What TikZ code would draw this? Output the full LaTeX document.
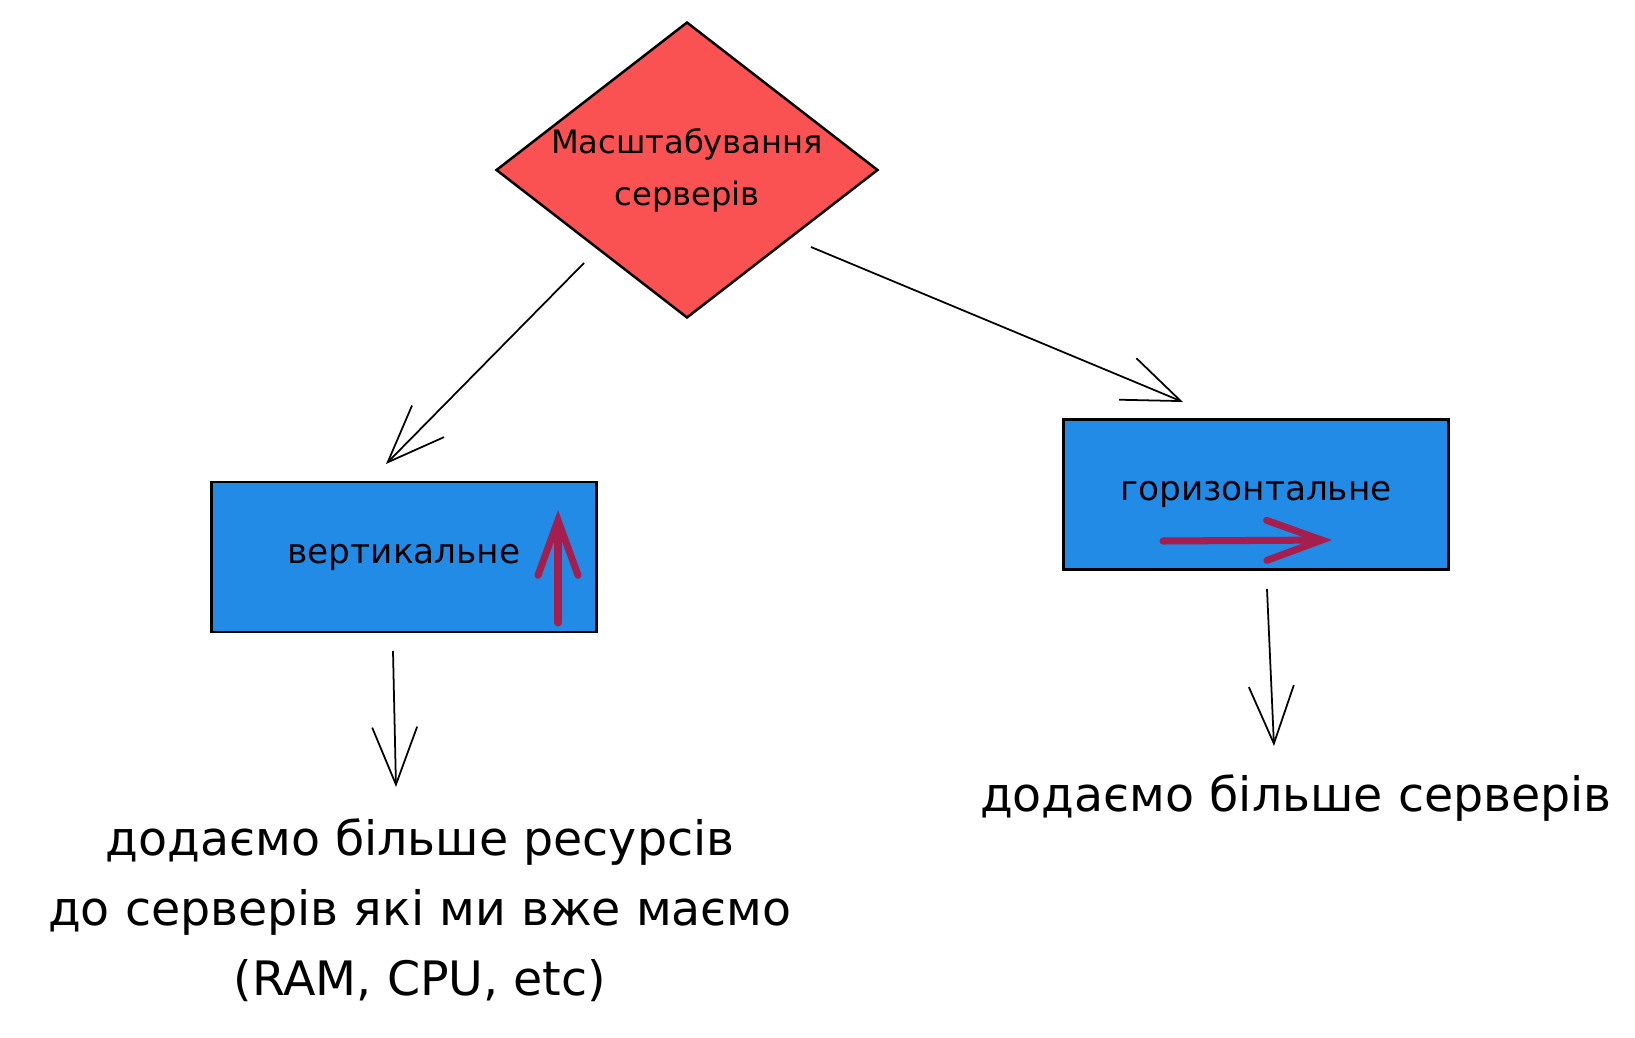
\documentclass[tikz,border=0pt]{standalone}
\usepackage{fontspec}
\setmainfont{DejaVu Sans}
\usetikzlibrary{shapes, arrows.meta, positioning, calc}

\definecolor{decisionred}{RGB}{250,82,82}
\definecolor{boxblue}{RGB}{34,139,230}
\definecolor{markred}{RGB}{166,30,77}

\begin{document}
\begin{tikzpicture}[
    every node/.style={font=\normalsize},
    decision/.style={
        diamond,
        aspect=1.29,
        minimum width=7.64cm,
        minimum height=5.92cm,
        inner sep=0pt,
        align=center,
        draw=black,
        line width=1.4pt,
        fill=decisionred,
        font=\fontsize{18.3}{29.6}\selectfont
    },
    process/.style={
        rectangle,
        minimum width=7.7cm,
        minimum height=3cm,
        text centered,
        draw=black,
        line width=1.6pt,
        fill=boxblue,
        font=\fontsize{19.5}{24}\selectfont
    },
    note/.style={
        align=center,
        font=\fontsize{27}{39.8}\selectfont
    },
    arrow/.style={
        line width=1pt,
        -{Straight Barb[length=1.15cm, width=0.9cm]}
    },
    markarrow/.style={
        draw=markred,
        line width=4pt,
        line cap=round,
        -{Straight Barb[length=1.1cm, width=0.8cm, line cap=round]}
    }
]

\useasboundingbox (0,0) rectangle (32.7,-20.76);

% Decision
\node (scaling) [decision] at (13.74,-3.40) {Масштабування\\серверів};

% Two ways
\node (vert) [process] at (8.08,-11.14) {вертикальне};
\node (horiz) [process] at (25.12,-9.89) {горизонтальне};

% What each way means
\node (moreres) [note] at (8.4,-18.2) {додаємо більше ресурсів\\до серверів які ми вже маємо\\(RAM, CPU, etc)};
\node (moresrv) [note] at (25.92,-15.96) {додаємо більше серверів};

% Arrows - from decision
\draw [arrow] ($(scaling.center)+(-2.06,-1.86)$) -- ($(vert.center)+(-0.36,1.86)$);
\draw [arrow] ($(scaling.center)+(2.48,-1.54)$) -- ($(horiz.center)+(-1.46,1.85)$);

% Arrows - down to notes
\draw [arrow] ($(vert.center)+(-0.22,-1.88)$) -- ($(moreres.center)+(-0.48,2.46)$);
\draw [arrow] ($(horiz.center)+(0.22,-1.89)$) -- ($(moresrv.center)+(-0.44,1.04)$);

% Direction marks inside the boxes
\draw [markarrow] ($(vert.center)+(3.08,-1.32)$) -- ($(vert.center)+(3.08,0.94)$);
\draw [markarrow] ($(horiz.center)+(-1.86,-0.93)$) -- ($(horiz.center)+(1.52,-0.91)$);

\end{tikzpicture}
\end{document}
